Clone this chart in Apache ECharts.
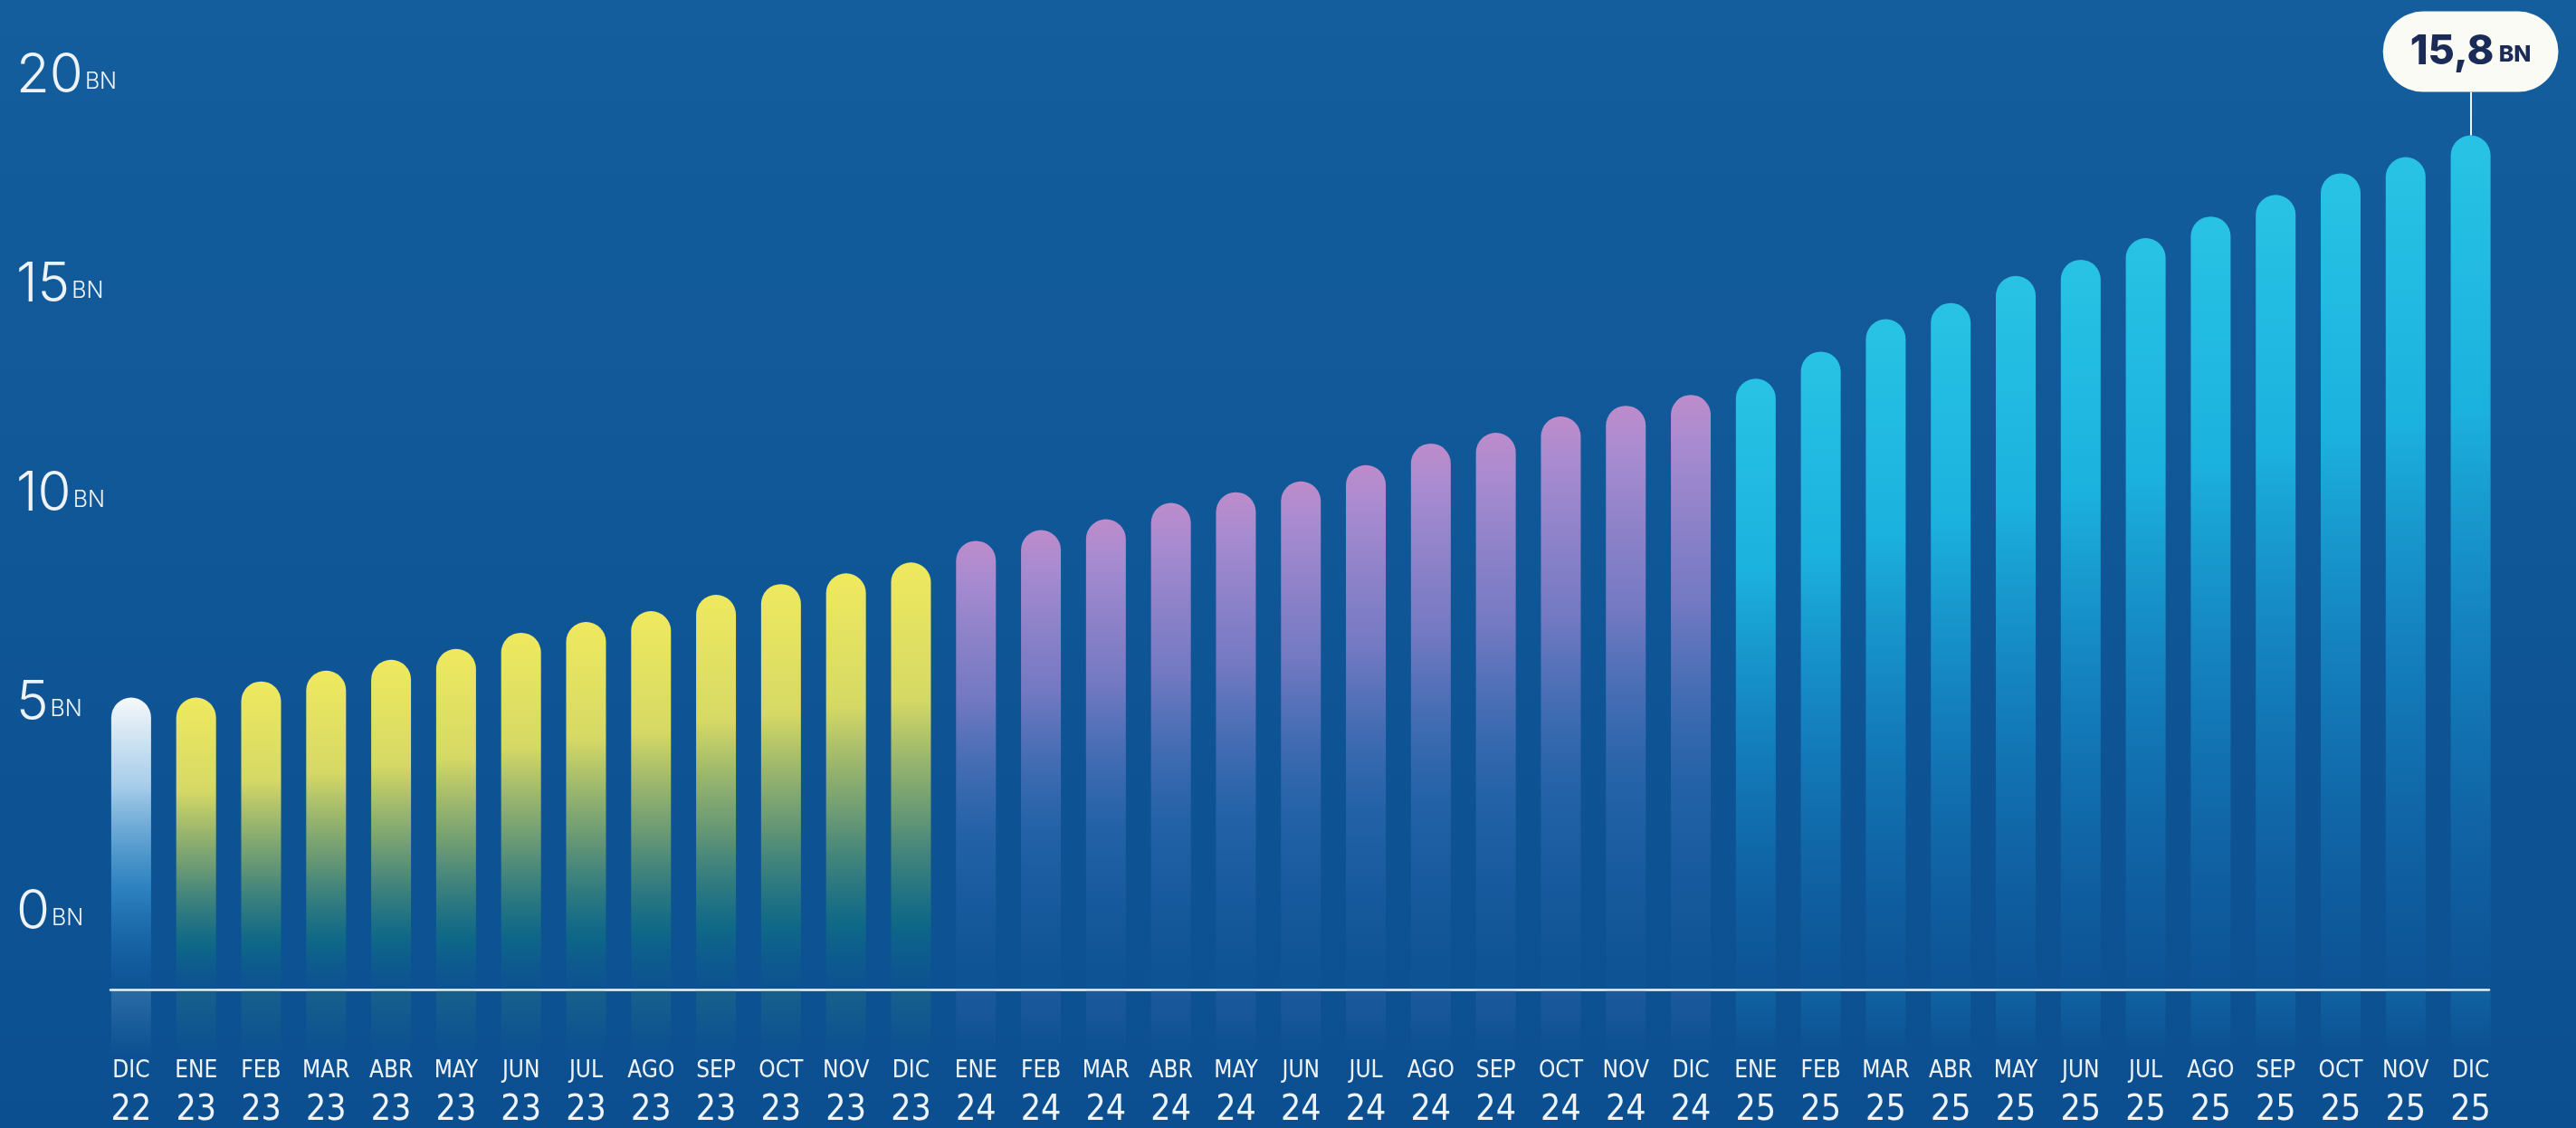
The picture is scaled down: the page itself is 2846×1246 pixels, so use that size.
<!DOCTYPE html>
<html>
<head>
<meta charset="utf-8">
<title>Evolución mensual</title>
<script src="https://cdn.jsdelivr.net/npm/echarts@6/dist/echarts.min.js"></script>
<style>
  html, body { margin: 0; padding: 0; width: 100%; height: 100%; overflow: hidden; background: #105a9a; }
  #chart { width: 2846px; height: 1246px; }
</style>
</head>
<body>
<div id="chart"></div>
<script>
// Meses y años de cada columna
const months = ['DIC','ENE','FEB','MAR','ABR','MAY','JUN','JUL','AGO','SEP','OCT','NOV','DIC',
                'ENE','FEB','MAR','ABR','MAY','JUN','JUL','AGO','SEP','OCT','NOV','DIC',
                'ENE','FEB','MAR','ABR','MAY','JUN','JUL','AGO','SEP','OCT','NOV','DIC'];
const years  = ['22','23','23','23','23','23','23','23','23','23','23','23','23',
                '24','24','24','24','24','24','24','24','24','24','24','24',
                '25','25','25','25','25','25','25','25','25','25','25','25'];
// Valor acumulado (miles de millones)
const values = [5.4, 5.4, 5.7, 5.9, 6.1, 6.3, 6.6, 6.8, 7.0, 7.3, 7.5, 7.7, 7.9,
                8.3, 8.5, 8.7, 9.0, 9.2, 9.4, 9.7, 10.1, 10.3, 10.6, 10.8, 11.0,
                11.3, 11.8, 12.4, 12.7, 13.2, 13.5, 13.9, 14.3, 14.7, 15.1, 15.4, 15.8];
// Marcas del eje vertical
const yTicks = [0, 5, 10, 15, 20];

const categories = months.map((m, i) => m + '\n' + years[i]);

// Degradado de cada columna según el año
const palettes = {
  '22': [[0, '#f6f8fa'], [0.3, 'rgba(175,212,238,0.95)'], [0.65, 'rgba(60,150,210,0.7)'], [1, 'rgba(30,120,190,0.05)']],
  '23': [[0, '#efe95e'], [0.32, 'rgba(224,224,98,0.95)'], [0.6, 'rgba(115,162,112,0.85)'], [0.85, 'rgba(15,118,128,0.6)'], [1, 'rgba(15,105,140,0.05)']],
  '24': [[0, '#bd8ccb'], [0.08, '#a98bd0'], [0.35, 'rgba(140,130,205,0.8)'], [0.65, 'rgba(70,120,195,0.4)'], [1, 'rgba(40,110,180,0.05)']],
  '25': [[0, '#28c3e4'], [0.32, 'rgba(28,182,226,0.95)'], [0.65, 'rgba(22,148,210,0.55)'], [1, 'rgba(20,120,190,0.05)']]
};
// Tono del reflejo bajo la línea base
const glow = { '22': '150,200,235', '23': '60,150,120', '24': '90,120,200', '25': '30,160,215' };

const barData = values.map((v, i) => ({
  value: v,
  itemStyle: {
    color: {
      type: 'linear', x: 0, y: 0, x2: 0, y2: 1,
      colorStops: palettes[years[i]].map(s => ({ offset: s[0], color: s[1] }))
    }
  }
}));

const reflectData = values.map((v, i) => ({
  value: v,
  itemStyle: {
    color: {
      type: 'linear', x: 0, y: 1093, x2: 0, y2: 1165, global: true,
      colorStops: [
        { offset: 0, color: 'rgba(' + glow[years[i]] + ',0.22)' },
        { offset: 1, color: 'rgba(' + glow[years[i]] + ',0)' }
      ]
    }
  }
}));

const last = values.length - 1;
barData[last].label = {
  show: true,
  position: 'top',
  distance: 48,
  formatter: () => '{v|' + values[last].toFixed(1).replace('.', ',') + '}{u| BN}',
  backgroundColor: '#fbfbf6',
  borderRadius: 45,
  padding: [23, 30, 23, 30],
  rich: {
    v: { fontFamily: 'Inter, "Open Sans", sans-serif', fontWeight: 800, fontSize: 45, lineHeight: 43, color: '#1b2b57' },
    u: { fontFamily: 'Inter, "Open Sans", sans-serif', fontWeight: 800, fontSize: 25, lineHeight: 43, color: '#1b2b57', padding: [6, 0, 0, 0] }
  }
};

const narrow = '"Liberation Sans Narrow", "DejaVu Sans Condensed", "Liberation Sans", sans-serif';

const chart = echarts.init(document.getElementById('chart'));
chart.setOption({
  animation: false,
  backgroundColor: {
    type: 'linear', x: 0, y: 0, x2: 0, y2: 1,
    colorStops: [{ offset: 0, color: '#145e9e' }, { offset: 1, color: '#0b4f90' }]
  },
  grid: [
    { left: 109, right: 80.5, top: 48.08, bottom: 153 },
    { left: 122, right: 96, top: 30.4, bottom: 153 },
    { left: 109, right: 80.5, top: 1094, bottom: 80 }
  ],
  xAxis: [
    {
      type: 'category', gridIndex: 0, data: categories,
      axisLine: { show: false }, axisTick: { show: false },
      axisLabel: {
        interval: 0, margin: 70,
        formatter: (val) => {
          const p = val.split('\n');
          return '{m|' + p[0] + '}\n{y|' + p[1] + '}';
        },
        rich: {
          m: { fontFamily: narrow, fontSize: 26, lineHeight: 41, color: '#eef3f8' },
          y: { fontFamily: narrow, fontSize: 39, lineHeight: 45, color: '#eef3f8' }
        }
      }
    },
    {
      type: 'value', gridIndex: 1, min: 0, max: 1,
      axisLine: { show: true, onZero: false, lineStyle: { color: '#f2f6fa', width: 2.5 } },
      axisTick: { show: false }, axisLabel: { show: false }, splitLine: { show: false }
    },
    {
      type: 'category', gridIndex: 2, data: categories, show: false
    }
  ],
  yAxis: [
    {
      type: 'value', gridIndex: 0, min: 0, max: 17.5,
      show: false, splitLine: { show: false }
    },
    {
      type: 'value', gridIndex: 1, min: -2, max: 21, interval: 1,
      axisLine: { show: false }, axisTick: { show: false }, splitLine: { show: false },
      axisLabel: {
        align: 'left', margin: 104, padding: [14, 0, 0, 0],
        formatter: (v) => yTicks.indexOf(v) >= 0 ? '{n|' + v + '}{u|BN}' : '',
        rich: {
          n: { fontFamily: 'Inter, Lato, sans-serif', fontWeight: 300, fontSize: 60, lineHeight: 60, color: '#eef3f8' },
          u: { fontFamily: 'Inter, Lato, sans-serif', fontWeight: 300, fontSize: 25, lineHeight: 25, color: '#eef3f8', verticalAlign: 'bottom', padding: [0, 0, 11, 2] }
        }
      }
    },
    {
      type: 'value', gridIndex: 2, min: 0, max: 1, inverse: true, show: false
    }
  ],
  series: [
    {
      type: 'bar', xAxisIndex: 0, yAxisIndex: 0,
      data: barData,
      barWidth: 44,
      itemStyle: { borderRadius: [22, 22, 0, 0] },
      markLine: {
        silent: true, symbol: 'none', label: { show: false },
        lineStyle: { color: '#f4f7fa', width: 2, type: 'solid' },
        data: [[{ coord: [last, values[last]] }, { coord: [last, 16.6] }]]
      }
    },
    {
      type: 'bar', xAxisIndex: 2, yAxisIndex: 2, silent: true,
      data: reflectData,
      barWidth: 44,
      clip: true
    }
  ]
});
</script>
</body>
</html>
